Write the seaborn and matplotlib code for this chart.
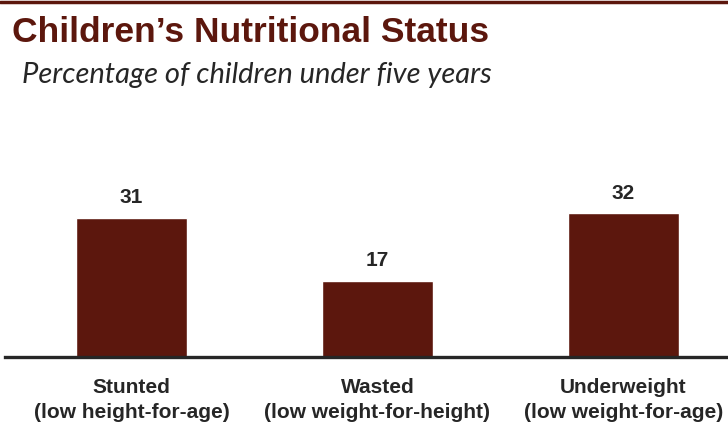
import matplotlib
matplotlib.use("Agg")
import matplotlib.pyplot as plt
import seaborn as sns
from matplotlib.lines import Line2D

# Data
categories = ["Stunted", "Wasted", "Underweight"]
subtitles = ["(low height-for-age)", "(low weight-for-height)", "(low weight-for-age)"]
values = [31, 17, 32]

bar_color = "#5C170D"
text_dark = "#262626"

sns.set_style("white")

fig = plt.figure(figsize=(7.28, 4.25), dpi=100)
# axes from x=5px to 728px, baseline at y=357px, top at y=150px
ax = fig.add_axes([5 / 728, 1 - 357 / 425, 723 / 728, 207 / 425])

sns.barplot(x=categories, y=values, color=bar_color, width=0.45,
            saturation=1, ax=ax)

ax.set_xlim(-0.514, 2.425)
ax.set_ylim(0, 46)
ax.set_yticks([])
ax.set_xlabel("")
ax.set_ylabel("")
for s in ["top", "right", "left"]:
    ax.spines[s].set_visible(False)
ax.spines["bottom"].set_linewidth(2.4)
ax.spines["bottom"].set_color(text_dark)

ax.set_xticks(range(len(categories)))
ax.set_xticklabels([f"{c}\n{s}" for c, s in zip(categories, subtitles)],
                   fontsize=15, fontweight="bold", color=text_dark,
                   family="Liberation Sans", linespacing=1.4)
ax.tick_params(axis="x", length=0, pad=15)

# value labels
for i, v in enumerate(values):
    ax.text(i, v + 3.2, str(v), ha="center", va="baseline", fontsize=15,
            fontweight="bold", color=text_dark, family="Liberation Sans")

# top rule, title, subtitle
fig.add_artist(Line2D([0, 1], [1 - 1.5 / 425, 1 - 1.5 / 425], color=bar_color,
                      linewidth=2.5, transform=fig.transFigure))
fig.text(12 / 728, 1 - 42 / 425, "Children\u2019s Nutritional Status",
         fontsize=25.5, fontweight="bold", color=bar_color,
         family="Liberation Sans", va="baseline")
fig.text(22 / 728, 1 - 83 / 425, "Percentage of children under five years",
         fontsize=21, style="italic", color=text_dark,
         family="Lato", va="baseline")

fig.savefig("out.png", dpi=100)
